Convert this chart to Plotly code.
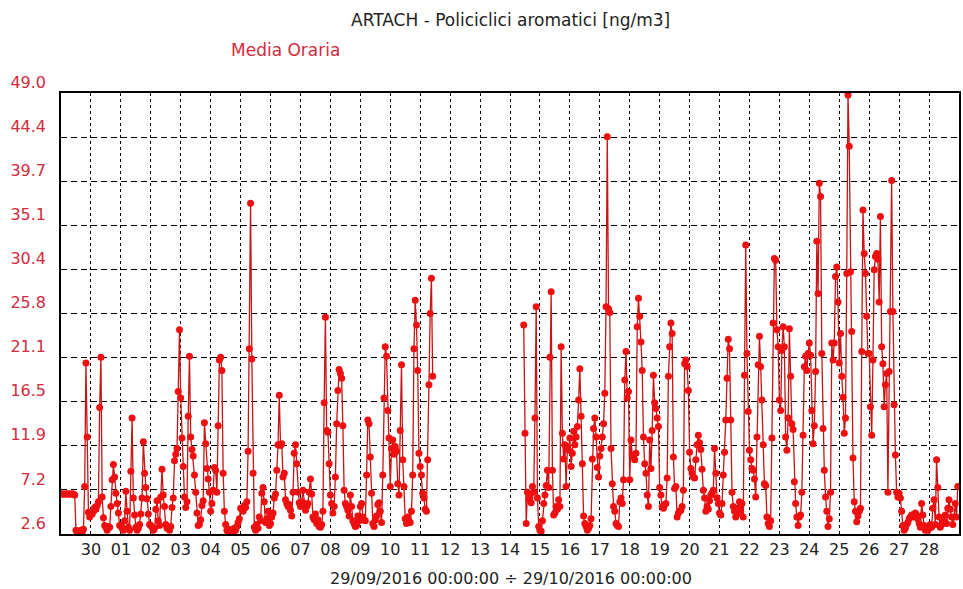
import pandas as pd
import numpy as np
import plotly.graph_objects as go

# Hourly means of polycyclic aromatic hydrocarbons [ng/m3], one list per day (00..23 h)
d_0929 = [6.8, 6.8, 6.8, 6.8, 6.8, 6.8, 6.8, 6.8, 6.8, 6.8, 6.8, 6.7, 3.0, 2.8, 2.7, 2.9, 3.0, 2.8, 3.1, 7.6, 20.6, 12.8, 4.9, 4.4]
d_0930 = [4.9, 4.7, 5.0, 5.4, 5.2, 5.6, 6.0, 15.9, 21.2, 6.5, 4.3, 3.5, 3.3, 3.0, 3.4, 3.3, 5.5, 8.3, 9.9, 8.6, 6.9, 5.8, 4.8, 3.5]
d_1001 = [3.5, 3.2, 3.0, 4.0, 7.1, 5.0, 3.3, 3.0, 9.2, 14.8, 6.4, 4.6, 3.3, 3.0, 3.2, 3.6, 4.7, 6.4, 12.3, 9.0, 7.5, 6.3, 4.7, 3.6]
d_1002 = [3.5, 3.3, 3.0, 3.2, 5.2, 6.1, 4.0, 3.5, 6.5, 9.4, 6.7, 5.5, 3.6, 3.2, 3.3, 3.0, 3.4, 5.4, 6.4, 10.3, 11.0, 11.6, 17.6, 24.1]
d_1003 = [16.9, 12.7, 9.7, 6.5, 5.4, 6.0, 15.0, 21.3, 12.8, 11.5, 10.8, 8.8, 7.0, 4.8, 3.5, 3.6, 4.1, 5.6, 6.1, 14.3, 12.1, 9.5, 8.4, 7.0]
d_1004 = [5.0, 5.8, 7.2, 9.6, 9.3, 7.0, 14.0, 20.9, 21.2, 19.8, 9.0, 5.0, 3.6, 3.0, 2.8, 3.1, 2.9, 3.0, 2.8, 3.2, 3.0, 3.4, 3.8, 4.2]
d_1005 = [5.3, 5.2, 5.0, 5.6, 5.4, 6.0, 11.3, 22.1, 37.4, 21.0, 9.0, 3.3, 3.0, 3.6, 3.2, 4.4, 4.0, 6.9, 7.5, 6.0, 3.8, 4.2, 5.0, 3.5]
d_1006 = [3.7, 4.4, 4.8, 6.4, 6.8, 9.3, 12.0, 17.2, 11.9, 12.1, 8.6, 9.0, 6.2, 5.8, 5.5, 5.7, 5.1, 4.5, 7.0, 11.1, 12.0, 10.0, 7.0, 5.9]
d_1007 = [5.5, 6.0, 7.2, 5.8, 5.1, 5.5, 5.8, 7.0, 8.4, 6.8, 4.4, 4.1, 4.7, 3.7, 4.1, 3.4, 3.3, 3.6, 5.0, 16.4, 25.4, 13.5, 13.3, 10.0]
d_1008 = [6.7, 5.8, 4.8, 5.5, 8.6, 14.2, 17.7, 19.9, 19.5, 19.0, 14.0, 7.2, 5.8, 5.5, 5.1, 4.5, 6.7, 5.5, 4.0, 3.7, 3.4, 3.5, 4.5, 4.0]
d_1009 = [5.5, 5.8, 4.4, 4.1, 4.0, 8.8, 14.6, 14.2, 10.7, 6.9, 3.7, 3.4, 4.1, 4.5, 5.7, 5.9, 5.0, 3.8, 8.8, 16.9, 22.3, 21.3, 15.6, 12.7]
d_1010 = [7.6, 11.6, 12.5, 11.0, 11.8, 11.3, 7.9, 6.7, 13.5, 20.4, 10.4, 7.6, 4.2, 3.7, 4.4, 4.0, 3.8, 5.0, 8.8, 22.1, 27.2, 24.6, 19.8, 11.1]
d_1011 = [9.7, 8.8, 6.9, 6.4, 5.2, 5.0, 10.4, 18.3, 25.8, 29.5, 19.2] + [None] * 13
d_1012 = [None] * 24
d_1013 = [None] * 24
d_1014 = [None] * 11 + [24.6, 13.2, 3.7, 7.0, 6.2, 6.5, 5.9, 7.6, 7.0, 14.8, 26.5, 6.4, 3.4]
d_1015 = [3.0, 2.9, 4.0, 5.8, 6.7, 7.7, 9.3, 7.5, 21.2, 28.1, 9.3, 4.6, 4.8, 5.5, 5.2, 6.2, 5.5, 22.3, 13.2, 10.5, 12.0, 7.6, 11.8, 11.4]
d_1016 = [12.7, 9.7, 11.1, 13.4, 12.0, 12.8, 13.9, 16.7, 20.0, 15.0, 10.0, 4.5, 3.7, 3.4, 3.0, 3.2, 3.5, 4.2, 10.5, 13.7, 14.8, 12.8, 9.6, 8.6]
d_1017 = [10.8, 11.6, 12.8, 14.2, 17.4, 26.5, 44.4, 26.3, 25.9, 11.6, 7.9, 5.5, 5.0, 3.7, 3.5, 3.4, 6.0, 6.4, 5.8, 8.3, 18.8, 21.8, 16.9, 17.6]
d_1018 = [8.3, 12.5, 10.9, 10.7, 10.4, 11.1, 24.4, 27.4, 25.5, 22.8, 19.8, 12.8, 10.0, 9.0, 6.7, 5.5, 12.5, 9.5, 13.5, 19.3, 16.4, 15.8, 14.8, 13.9]
d_1019 = [7.5, 6.7, 5.5, 5.3, 5.7, 5.8, 8.5, 19.2, 22.3, 24.8, 23.7, 10.7, 7.4, 7.6, 4.4, 4.8, 5.0, 5.1, 5.5, 7.2, 20.5, 20.9, 20.2, 17.7]
d_1020 = [11.2, 9.5, 9.0, 8.6, 8.5, 10.4, 12.0, 13.0, 12.2, 11.5, 9.4, 7.2, 6.4, 5.0, 5.5, 5.2, 6.1, 6.7, 6.9, 7.2, 11.6, 9.0, 6.4, 5.8]
d_1021 = [4.8, 4.6, 5.8, 8.8, 11.2, 14.6, 19.0, 23.1, 22.1, 14.6, 7.0, 5.5, 5.0, 4.4, 4.7, 5.3, 6.0, 5.0, 5.8, 4.4, 19.3, 33.0, 21.6, 15.5]
d_1022 = [11.4, 10.4, 9.5, 9.3, 8.4, 6.5, 12.8, 20.4, 23.4, 20.2, 16.7, 12.0, 7.9, 7.7, 4.4, 3.7, 3.4, 4.0, 12.7, 24.8, 31.6, 31.4, 24.1, 22.3]
d_1023 = [16.7, 15.6, 21.9, 24.4, 22.3, 12.8, 11.4, 14.8, 24.2, 19.2, 14.2, 13.6, 8.1, 5.8, 4.4, 3.5, 4.4, 4.6, 7.0, 13.0, 20.2, 21.3, 19.8, 21.6]
d_1024 = [22.7, 21.4, 15.6, 12.1, 14.0, 19.7, 33.4, 27.9, 39.5, 38.1, 21.6, 13.7, 9.3, 6.5, 5.0, 3.4, 4.2, 7.0, 22.7, 20.9, 22.7, 29.7, 30.7, 27.0]
d_1025 = [20.6, 23.7, 19.2, 17.0, 13.2, 14.8, 30.0, 48.8, 43.4, 30.2, 23.9, 10.6, 6.0, 5.0, 3.9, 4.5, 5.0, 5.3, 21.8, 36.7, 32.1, 30.0, 25.5, 21.6]
d_1026 = [21.6, 16.0, 13.0, 20.9, 30.4, 31.8, 32.1, 31.5, 27.0, 36.0, 22.3, 20.5, 16.0, 18.3, 19.5, 7.0, 19.7, 26.0, 39.8, 26.0, 16.2, 10.9, 7.0, 6.5]
d_1027 = [6.9, 6.4, 5.0, 3.5, 3.0, 3.2, 3.6, 3.8, 4.2, 4.4, 4.6, 4.6, 4.4, 4.8, 4.6, 4.2, 3.7, 3.3, 5.8, 4.6, 3.5, 3.0, 3.2, 3.0]
d_1028 = [3.2, 3.6, 3.3, 5.3, 6.2, 3.6, 10.4, 7.5, 4.4, 3.3, 3.6, 4.0, 4.2, 4.6, 3.7, 5.3, 6.2, 5.2, 4.4, 3.6, 4.4, 5.8, 4.4, 7.6]

days = [d_0929, d_0930, d_1001, d_1002, d_1003, d_1004, d_1005, d_1006, d_1007, d_1008,
        d_1009, d_1010, d_1011, d_1012, d_1013, d_1014, d_1015, d_1016, d_1017, d_1018,
        d_1019, d_1020, d_1021, d_1022, d_1023, d_1024, d_1025, d_1026, d_1027, d_1028]

y_tick_labels = ["2.6", "7.2", "11.9", "16.5", "21.1", "25.8", "30.4", "35.1", "39.7", "44.4", "49.0"]
period_start = "2016-09-29 00:00"
period_end = "2016-10-29 00:00"

values = [v for day in days for v in day]
times = pd.date_range(period_start, periods=len(values), freq="h")

day_ticks = pd.date_range("2016-09-30", "2016-10-28", freq="D")
day_labels = [d.strftime("%d") for d in day_ticks]

y_min, y_max = float(y_tick_labels[0]), float(y_tick_labels[-1])
y_ticks = np.linspace(y_min, y_max, len(y_tick_labels))

RED = "#d42a3c"
FONT = "DejaVu Sans"

fig = go.Figure()
fig.add_trace(go.Scatter(
    x=times, y=values, mode="lines+markers",
    line=dict(color="#c81414", width=1.3),
    marker=dict(color="#ee1010", size=7),
    connectgaps=False, hoverinfo="x+y", showlegend=False,
))

fig.update_layout(
    width=963, height=589,
    margin=dict(l=61, r=2, t=93, b=55),
    paper_bgcolor="white", plot_bgcolor="white",
    font=dict(family=FONT, size=16, color="#222222"),
    xaxis=dict(
        range=[period_start, period_end],
        tickvals=day_ticks, ticktext=day_labels,
        ticks="", tickfont=dict(size=16, color="#222222"),
        showgrid=True, gridcolor="black", gridwidth=1, griddash="3px,3px",
        showline=True, linecolor="black", linewidth=1.5, mirror=True,
        zeroline=False,
    ),
    yaxis=dict(
        range=[y_min, y_max],
        tickvals=y_ticks, ticktext=y_tick_labels,
        ticks="", tickfont=dict(size=16, color=RED),
        ticklabelshift=-11, ticklabelstandoff=10,
        showgrid=True, gridcolor="black", gridwidth=1, griddash="6px,4px",
        showline=True, linecolor="black", linewidth=1.5, mirror=True,
        zeroline=False,
    ),
    annotations=[
        dict(text="ARTACH - Policiclici aromatici [ng/m3]", xref="paper", yref="paper",
             x=0.5, y=1.1655, xanchor="center", yanchor="middle", showarrow=False,
             font=dict(size=17, color="#222222", family=FONT)),
        dict(text="Media Oraria", xref="paper", yref="paper",
             x=0.25, y=1.0975, xanchor="center", yanchor="middle", showarrow=False,
             font=dict(size=17, color=RED, family=FONT)),
        dict(text="29/09/2016 00:00:00 ÷ 29/10/2016 00:00:00", xref="paper", yref="paper",
             x=0.501, y=-0.0998, xanchor="center", yanchor="middle", showarrow=False,
             font=dict(size=16, color="#222222", family=FONT)),
    ],
)

fig.write_html("out.html")
